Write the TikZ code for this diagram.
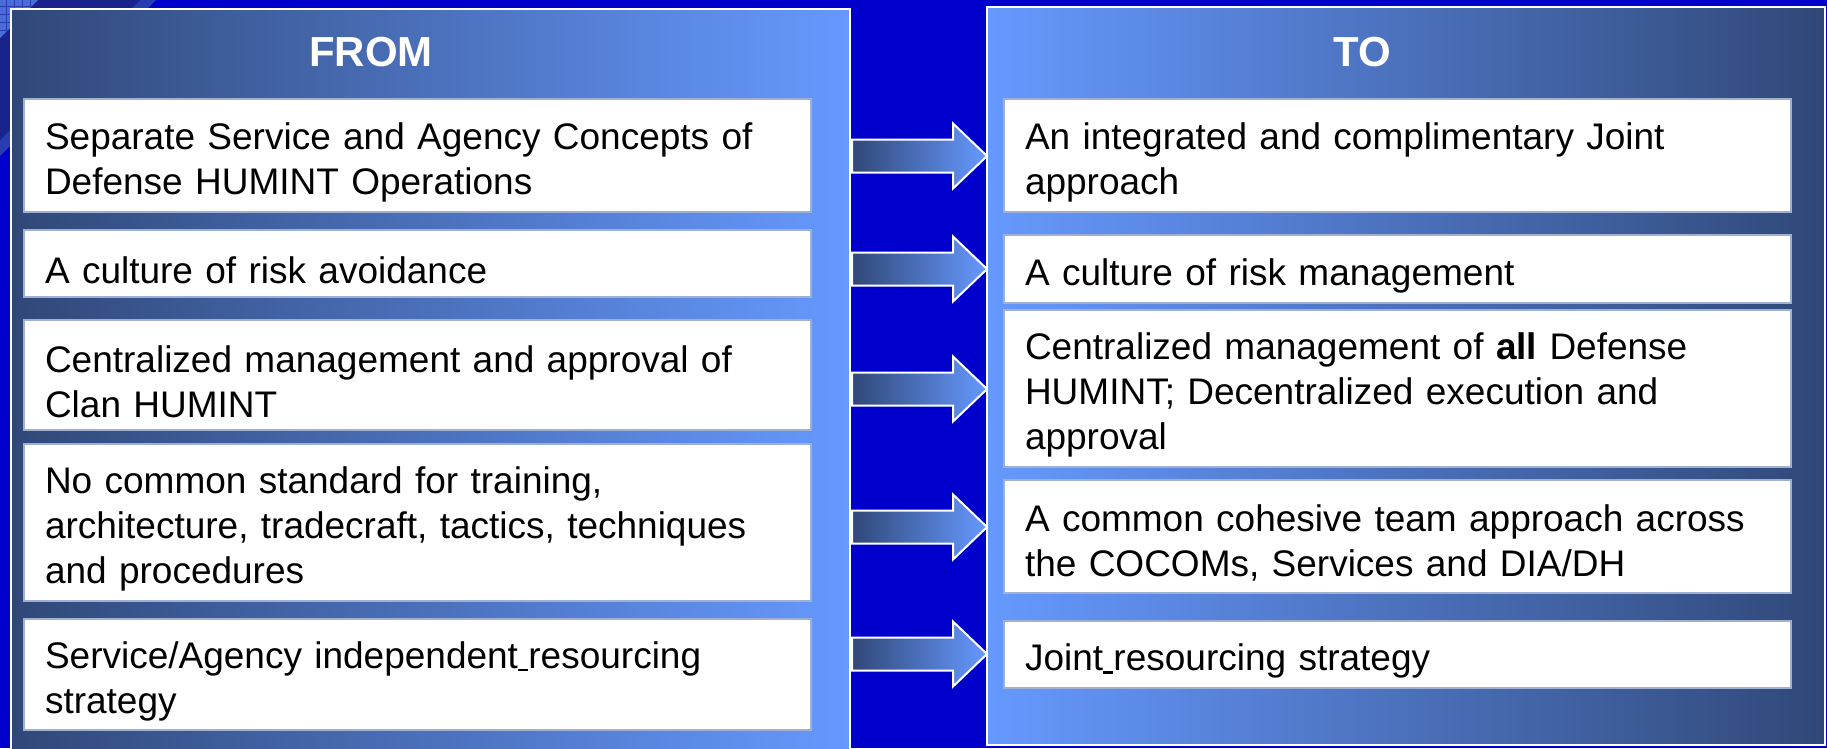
\documentclass[tikz,border=0pt]{standalone}
\usepackage{fontspec}
\setmainfont{Liberation Sans}
\definecolor{bgblue}{RGB}{0,0,204}
\definecolor{navy}{RGB}{24,36,140}
\definecolor{navyband}{RGB}{40,62,176}
\definecolor{gridblue}{RGB}{74,108,214}
\definecolor{gdark}{RGB}{48,72,120}
\definecolor{glight}{RGB}{102,153,255}
\definecolor{boxline}{RGB}{160,176,210}
\begin{document}
\begin{tikzpicture}[x=1pt,y=-1pt,
  panelbox/.style={draw=white, line width=2pt},
  itembox/.style={draw=boxline, line width=1.2pt, fill=white, anchor=north west,
    inner xsep=21pt, inner ysep=0pt, outer sep=0pt, align=left, text width=745pt,
    font=\fontsize{37}{44.8}\selectfont, text=black,
    execute at begin node={\rule{0pt}{40pt}}},
  header/.style={text=white, font=\fontsize{42}{50}\selectfont\bfseries, anchor=base, inner sep=0pt},
  blockarrow/.style={draw=white, line width=2pt, left color=gdark, right color=glight, line join=miter}
]
\useasboundingbox (0,0) rectangle (1827,748);
\clip (0,0) rectangle (1827,748);
% background
\fill[bgblue] (0,0) rectangle (1827,748);
\fill[navyband] (0,0) -- (156,0) -- (0,156) -- cycle;
\fill[navy] (0,0) -- (140,0) -- (0,140) -- cycle;
\fill[gridblue] (0,0) -- (38,0) -- (0,38) -- cycle;
\foreach \g in {6,14,22,30}{
  \draw[navyband, line width=0.6pt] (\g,0) -- (\g,38-\g);
  \draw[navyband, line width=0.6pt] (0,\g) -- (38-\g,\g);
}
% panels
\shade[panelbox, left color=gdark, right color=glight] (11,9) rectangle (850,760);
\coordinate (lpnw) at (11,9);
\shade[panelbox, left color=glight, right color=gdark] (987,7) rectangle (1825,745);
\coordinate (rpnw) at (987,7);
% headers
\node[header] (from) at (371,66) {FROM};
\node[header] (to) at (1362,66) {TO};
% left boxes
\node[itembox, minimum height=113pt] (L1) at (24,99) {Separate Service and Agency Concepts of\\Defense HUMINT Operations};
\node[itembox, minimum height=67pt] (L2) at (24,230) {A culture of risk avoidance};
\node[itembox, minimum height=110pt] (L3) at (24,320) {Centralized management and approval of\\Clan HUMINT};
\node[itembox, minimum height=157pt] (L4) at (24,444) {No common standard for training,\\architecture, tradecraft, tactics, techniques\\and procedures};
\node[itembox, minimum height=111pt] (L5) at (24,619) {Service/Agency independent\rule[-3pt]{10.3pt}{2.2pt}resourcing\\strategy};
% right boxes
\node[itembox, minimum height=113pt] (R1) at (1004,99) {An integrated and complimentary Joint\\approach};
\node[itembox, minimum height=68pt] (R2) at (1004,235) {A culture of risk management};
\node[itembox, minimum height=157pt] (R3) at (1004,310) {Centralized management of \textbf{all} Defense\\HUMINT; Decentralized execution and\\approval};
\node[itembox, minimum height=113pt] (R4) at (1004,480) {A common cohesive team approach across\\the COCOMs, Services and DIA/DH};
\node[itembox, minimum height=67pt] (R5) at (1004,621) {Joint\rule[-3pt]{10.3pt}{2.2pt}resourcing strategy};
% block arrows from the FROM panel to the TO panel
\foreach \c in {156,269,389,527,654}{
  \shade[blockarrow] (852,\c-16.5) -- (953,\c-16.5) -- (953,\c-32.5) -- (987,\c)
    -- (953,\c+32.5) -- (953,\c+16.5) -- (852,\c+16.5) -- cycle;
}
\end{tikzpicture}
\end{document}
